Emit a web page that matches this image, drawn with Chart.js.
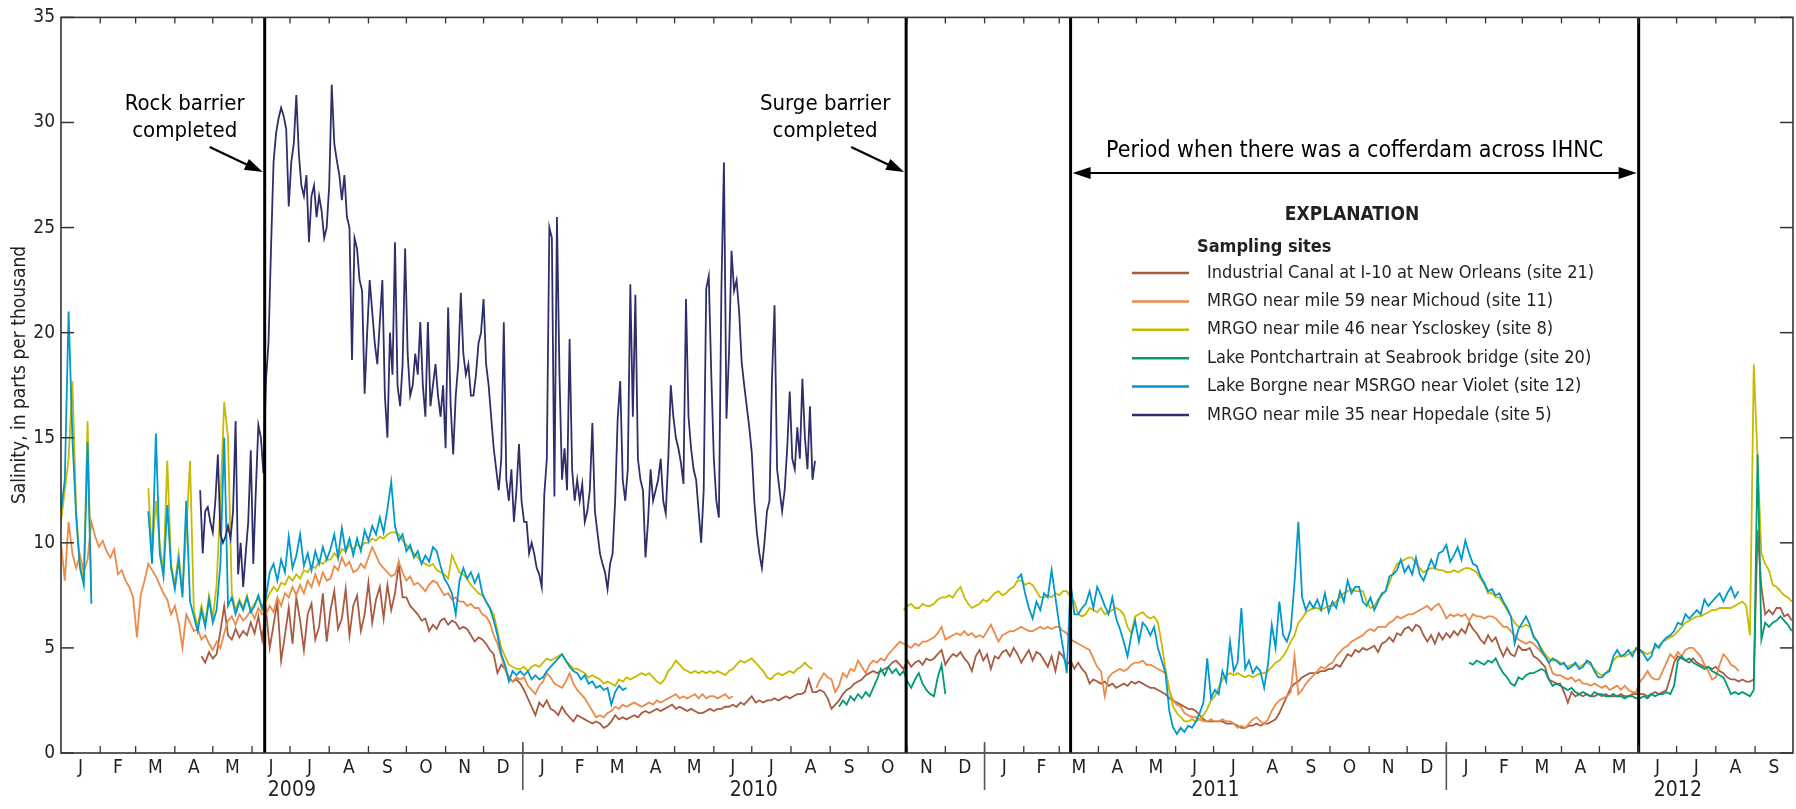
<!DOCTYPE html>
<html>
<head>
<meta charset="utf-8">
<title>Salinity at sampling sites, 2009-2012</title>
<script src="https://cdn.jsdelivr.net/npm/chart.js@4.4.0/dist/chart.umd.min.js"></script>
<style>
  html, body { margin: 0; padding: 0; background: #ffffff; }
  canvas { display: block; }
</style>
</head>
<body>
<canvas id="salinity" width="1796" height="809"></canvas>
<script>
// Day numbers count from 1 January 2009 (day 0). The axis ends on 1 October 2012.
const axisEndDay = 1369;
const monthLetters = ['J', 'F', 'M', 'A', 'M', 'J', 'J', 'A', 'S', 'O', 'N', 'D'];
const monthStartDays = [
  0, 31, 59, 90, 120, 151, 181, 212, 243, 273, 304, 334,
  365, 396, 424, 455, 485, 516, 546, 577, 608, 638, 669, 699,
  730, 761, 789, 820, 850, 881, 911, 942, 973, 1003, 1034, 1064,
  1095, 1126, 1155, 1186, 1216, 1247, 1277, 1308, 1339, 1369
];
const yearLabels = ['2009', '2010', '2011', '2012'];
const yearStartDays = [0, 365, 730, 1095];
const yearLengths = [365, 365, 365, 366];
const yTicks = [0, 5, 10, 15, 20, 25, 30, 35];

// Construction milestones
const rockBarrierDay = 161;
const surgeBarrierDay = 668;
const cofferdamStartDay = 798;
const cofferdamEndDay = 1247;

const siteNames = [
  'Industrial Canal at I-10 at New Orleans (site 21)',
  'MRGO near mile 59 near Michoud (site 11)',
  'MRGO near mile 46 near Yscloskey (site 8)',
  'Lake Pontchartrain at Seabrook bridge (site 20)',
  'Lake Borgne near MSRGO near Violet (site 12)',
  'MRGO near mile 35 near Hopedale (site 5)'
];
const siteColors = ['#a95b41', '#ec8a47', '#c8ba00', '#009a76', '#0098cd', '#2d2e6b'];

// Salinity records, parts per thousand. Each run is sampled every
// `step` days from its start day; gaps in the record separate runs.
const site21Starts = [111];
const site21Runs = [[
  4.6,4.3,4.8,4.5,4.7,5.8,7.0,5.6,5.4,5.9,
  5.5,5.8,5.6,6.2,5.7,6.5,5.4,6.8,5.0,6.1,
  7.2,4.4,5.6,6.9,5.2,7.4,6.3,4.9,6.6,7.1,
  5.4,6.0,7.6,5.3,6.8,7.7,5.9,6.4,7.8,5.6,
  7.0,7.5,5.8,6.6,8.1,6.2,7.3,7.9,6.4,8.0,
  6.8,7.6,9.0,7.4,7.4,7.0,6.8,6.6,6.3,6.4,
  5.8,6.1,5.9,6.3,6.4,6.1,6.3,6.2,5.9,6.0,
  5.9,5.6,5.3,5.5,5.4,5.2,4.9,4.7,3.8,4.2,
  4.0,3.6,3.4,3.5,3.3,3.0,2.6,2.2,1.8,2.4,
  2.2,2.5,2.1,2.0,1.8,2.2,1.9,1.7,1.5,1.8,
  1.7,1.6,1.5,1.4,1.5,1.4,1.2,1.3,1.5,1.8,
  1.6,1.7,1.6,1.7,1.8,1.7,1.9,2.0,1.9,2.0,
  2.1,2.0,2.1,2.2,2.3,2.1,2.2,2.1,2.0,2.1,
  2.0,1.9,1.9,2.0,2.1,2.0,2.1,2.1,2.2,2.2,
  2.3,2.2,2.4,2.3,2.5,2.7,2.4,2.5,2.4,2.5,
  2.5,2.6,2.5,2.6,2.7,2.6,2.7,2.8,2.8,2.9,
  3.5,2.9,2.9,3.0,2.9,2.6,2.1,2.3,2.5,2.8,
  3.0,3.1,3.3,3.4,3.5,3.7,3.8,3.9,3.8,3.9,
  4.0,4.1,4.3,4.4,4.2,4.0,4.4,4.1,4.3,4.4,
  4.2,4.5,4.4,4.5,4.7,4.9,4.2,4.5,4.7,4.6,
  4.8,4.5,4.3,3.9,4.6,4.9,4.4,4.7,4.0,4.6,
  4.5,4.8,4.9,4.6,5.0,4.7,4.3,4.6,4.9,4.4,
  4.8,4.7,4.4,4.1,4.6,3.9,4.8,4.6,4.2,4.4,
  4.0,4.3,4.0,3.8,3.3,3.5,3.4,3.3,3.4,3.2,
  3.3,3.1,3.2,3.3,3.2,3.4,3.3,3.4,3.3,3.2,
  3.1,3.1,3.0,2.9,2.8,2.6,2.5,2.4,2.3,2.2,
  2.1,2.1,2.0,1.8,1.6,1.5,1.5,1.5,1.5,1.5,
  1.4,1.4,1.4,1.3,1.2,1.2,1.3,1.3,1.4,1.3,
  1.4,1.4,1.5,1.6,1.9,2.3,2.7,3.1,3.3,3.4,
  3.6,3.7,3.8,3.8,3.8,3.9,3.9,4.0,4.0,4.2,
  4.1,4.4,4.7,4.6,4.9,4.8,5.0,4.9,5.0,5.1,
  4.8,5.2,5.3,5.5,5.3,5.7,5.6,5.9,6.0,5.8,
  6.1,6.0,5.6,5.3,5.6,5.2,5.7,5.4,5.7,5.5,
  5.8,5.6,5.9,5.7,6.2,5.9,5.7,5.4,5.2,5.6,
  5.3,5.5,5.0,4.6,5.0,4.7,4.6,5.1,4.9,4.9,
  5.0,4.6,4.5,4.3,4.1,3.5,3.4,3.3,3.3,2.9,
  2.4,2.9,2.7,2.8,2.7,2.8,2.7,2.7,2.8,2.7,
  2.8,2.7,2.7,2.7,2.8,2.7,2.7,2.8,2.8,2.8,
  2.8,2.7,2.8,2.9,2.8,2.9,3.0,3.6,4.3,4.6,
  4.5,4.4,4.3,4.5,4.3,4.2,4.1,4.1,4.0,4.1,
  3.9,3.8,3.6,3.5,3.5,3.4,3.5,3.4,3.4,3.5,
  10.6,7.9,6.6,6.8,6.6,6.9,6.9,6.5,6.6,6.3
]];

const site11Starts = [0, 597];
const site11Runs = [[
  10.0,8.2,11.0,9.5,8.8,9.4,8.6,9.2,11.0,10.3,
  9.8,10.1,9.6,9.3,9.7,8.5,8.7,8.2,7.9,7.4,
  5.5,7.5,8.2,9.0,8.7,8.4,8.0,7.6,7.3,6.6,
  7.0,6.2,5.0,6.6,6.2,5.8,5.9,5.4,5.6,5.2,
  4.9,5.3,5.0,5.7,6.3,6.5,6.1,6.6,6.3,6.5,
  6.8,6.4,6.9,6.6,6.6,7.0,6.7,7.4,7.0,7.6,
  7.4,7.9,7.5,8.0,7.6,8.2,7.9,8.5,8.0,8.6,
  8.2,8.3,8.9,8.7,9.3,8.9,9.1,8.6,8.7,9.0,
  8.8,9.3,9.8,9.4,9.0,8.8,8.6,8.4,8.5,9.1,
  8.6,8.2,8.4,8.0,8.1,7.9,7.7,8.0,8.2,8.1,
  7.8,7.5,7.6,7.3,7.4,7.2,7.2,7.0,7.1,6.9,
  6.9,6.6,6.5,6.2,5.6,5.2,4.6,4.0,3.5,3.4,
  3.6,3.5,3.6,3.2,3.0,2.8,3.2,3.4,3.8,3.6,
  3.3,3.2,3.1,3.4,3.8,3.3,3.0,2.8,2.6,2.3,
  2.0,1.7,1.8,1.7,1.9,2.0,2.2,2.1,2.3,2.2,
  2.3,2.4,2.3,2.2,2.3,2.4,2.3,2.5,2.4,2.5,
  2.6,2.7,2.8,2.6,2.7,2.6,2.7,2.8,2.6,2.8,
  2.6,2.7,2.7,2.6,2.7,2.8,2.6,2.7
], [
  3.1,3.5,3.8,3.6,3.5,2.9,3.2,3.8,3.6,4.0,
  3.9,4.4,4.1,3.8,4.2,4.4,4.3,4.5,4.4,4.7,
  4.9,5.1,5.3,5.2,5.1,5.0,5.2,5.1,5.3,5.3,
  5.4,5.5,5.7,6.0,5.4,5.5,5.6,5.7,5.6,5.8,
  5.6,5.7,5.5,5.6,5.5,5.8,6.1,5.7,5.3,5.6,
  5.7,5.8,5.8,5.9,6.0,5.9,5.8,5.8,5.9,6.0,
  5.9,6.0,5.9,6.0,6.0,5.8,5.7,5.4,5.3,5.2,
  5.1,5.0,4.9,4.5,4.1,3.9,2.7,3.6,3.8,3.9,
  4.0,3.9,4.0,4.2,4.3,4.3,4.4,4.2,4.2,4.1,
  4.0,3.9,3.8,3.0,2.5,2.3,2.2,1.9,1.8,1.7,
  1.7,1.6,1.5,1.5,1.6,1.5,1.5,1.6,1.5,1.5,
  1.4,1.2,1.3,1.2,1.4,1.6,1.7,1.5,1.4,1.6,
  2.0,2.3,2.5,2.6,2.7,2.9,4.6,2.8,3.0,3.3,
  3.5,3.7,3.9,4.1,4.0,4.2,4.3,4.6,4.8,5.0,
  5.1,5.3,5.4,5.5,5.6,5.8,5.9,5.8,6.0,6.0,
  6.0,6.2,6.3,6.5,6.4,6.5,6.6,6.6,6.7,6.8,
  6.9,7.0,6.8,7.0,7.1,6.8,6.4,6.6,6.5,6.6,
  6.5,6.6,6.3,6.6,6.5,6.5,6.4,6.5,6.5,6.4,
  6.2,6.0,6.0,5.8,5.6,5.4,5.3,5.2,5.3,5.2,
  5.0,4.8,4.6,4.3,3.8,3.7,3.7,3.6,3.5,3.6,
  3.4,3.5,3.3,3.3,3.2,3.3,3.2,3.1,3.2,3.0,
  3.1,3.2,3.0,3.2,3.0,2.9,2.9,3.4,3.6,3.9,
  3.6,3.5,3.5,3.9,4.3,4.7,4.5,4.8,4.6,4.9,
  5.0,5.0,4.8,4.6,4.2,3.9,3.5,3.6,4.2,4.7,
  4.5,4.2,4.1,3.9
]];

const site8Starts = [0, 69, 666];
const site8Runs = [[
  11.0,12.5,14.0,17.7,11.5,9.0,8.2,15.8,7.5
], [
  12.6,9.5,12.0,10.0,8.6,13.9,9.0,8.0,9.5,7.6,
  10.5,13.9,6.8,6.0,7.0,6.2,7.5,6.4,8.0,12.0,
  16.7,15.0,7.6,6.8,7.3,6.9,7.5,6.8,7.1,7.4,
  6.8,7.2,7.6,7.9,7.7,8.1,8.0,8.4,8.2,8.5,
  8.3,8.7,8.6,8.9,8.8,9.1,9.0,9.2,9.2,9.5,
  9.3,9.7,9.6,9.9,9.7,9.9,9.8,10.0,10.0,10.2,
  10.1,10.3,10.2,10.4,10.5,10.5,10.4,10.1,9.9,9.7,
  9.5,9.3,9.1,9.0,8.9,9.0,8.7,8.6,8.5,8.3,
  9.4,9.0,8.6,8.5,8.3,8.0,7.8,7.6,7.5,7.2,
  6.9,6.6,5.8,5.0,4.6,4.2,4.1,4.0,4.0,4.1,
  3.9,4.1,4.2,4.1,4.3,4.5,4.4,4.5,4.6,4.7,
  4.4,4.2,4.0,4.0,3.9,3.8,3.6,3.7,3.6,3.5,
  3.3,3.4,3.3,3.2,3.5,3.4,3.6,3.5,3.6,3.7,
  3.8,3.7,3.8,3.6,3.4,3.3,3.5,3.9,4.1,4.4,
  4.2,4.0,3.9,3.8,3.9,3.8,3.9,3.8,3.9,3.8,
  3.9,3.8,3.7,3.9,4.0,4.2,4.4,4.3,4.4,4.5,
  4.3,4.1,3.9,3.6,3.5,3.7,3.8,3.7,3.8,3.9,
  3.8,4.0,4.1,4.3,4.1,4.0
], [
  6.8,7.0,7.1,6.9,6.9,7.1,7.0,7.0,7.1,7.3,
  7.4,7.4,7.5,7.4,7.7,7.9,7.4,7.1,6.9,7.0,
  7.1,7.3,7.2,7.4,7.6,7.7,7.5,7.6,7.8,7.9,
  8.2,8.2,8.0,8.1,8.0,7.7,7.4,7.4,7.5,7.4,
  7.6,7.5,7.7,7.7,7.4,7.2,6.6,6.5,6.6,6.9,
  6.8,6.7,6.9,6.6,6.7,6.8,6.9,6.8,6.6,6.0,
  5.7,6.5,6.6,6.7,6.5,6.4,6.5,6.2,5.2,4.0,
  3.0,2.2,1.9,1.7,1.5,1.5,1.6,1.5,1.6,1.8,
  2.1,2.5,2.7,3.1,3.5,3.7,3.8,3.7,3.8,3.7,
  3.6,3.7,3.6,3.7,3.8,3.8,3.9,4.1,4.3,4.4,
  4.6,4.9,5.3,5.6,6.2,6.4,6.7,6.8,6.9,6.9,
  6.8,6.9,7.0,7.0,7.2,7.4,7.6,7.7,7.8,7.7,
  7.7,7.7,7.2,6.9,7.0,7.3,7.5,7.7,8.1,8.6,
  9.0,9.1,9.2,9.3,9.3,9.0,8.8,8.6,8.7,8.8,
  8.8,8.7,8.7,8.6,8.6,8.7,8.6,8.7,8.8,8.8,
  8.7,8.6,8.3,8.0,7.6,7.6,7.4,7.4,7.1,6.8,
  6.5,6.2,6.0,6.0,6.1,6.0,5.6,5.3,5.0,4.7,
  4.5,4.4,4.4,4.3,4.2,4.1,4.2,4.2,4.1,4.2,
  4.3,4.2,4.0,3.8,3.7,3.8,4.0,4.4,4.6,4.6,
  4.6,4.7,4.8,4.9,4.9,4.8,4.7,4.8,5.0,5.1,
  5.3,5.4,5.5,5.6,5.8,6.0,6.2,6.3,6.4,6.5,
  6.5,6.6,6.7,6.8,6.8,6.9,6.9,6.9,6.9,7.0,
  7.1,7.2,7.0,5.6,18.5,14.0,9.5,9.0,8.7,8.0,
  7.9,7.7,7.5,7.4,7.2
]];

const site20Starts = [615, 1113];
const site20Runs = [[
  2.2,2.5,2.3,2.7,2.5,2.8,2.6,2.9,2.7,3.1,
  3.5,4.0,3.7,4.1,3.8,4.0,3.7,3.9,3.4,3.1,
  3.5,3.8,3.3,3.0,2.8,2.7,3.6,4.2,2.8
], [
  4.3,4.2,4.4,4.3,4.2,4.4,4.3,4.5,4.1,3.8,
  3.6,3.3,3.2,3.6,3.5,3.7,3.8,3.8,3.9,4.0,
  3.9,3.5,3.2,3.3,3.2,3.1,3.0,3.1,2.9,2.8,
  2.9,2.8,2.7,2.9,2.8,2.8,2.7,2.7,2.8,2.7,
  2.7,2.6,2.7,2.7,2.6,2.6,2.7,2.6,2.8,2.7,
  2.8,2.8,2.9,2.8,3.2,4.4,4.6,4.4,4.5,4.3,
  4.2,4.1,4.0,4.1,3.9,3.8,3.7,3.6,3.2,2.8,
  2.9,2.8,2.9,2.8,2.7,3.0,14.2,5.4,6.2,6.0,
  6.2,6.3,6.5,6.3,6.1,5.8
]];

const site12Starts = [0, 69, 756];
const site12Runs = [[
  11.5,13.0,21.0,15.0,11.2,8.8,8.0,14.8,7.1
], [
  11.5,9.0,15.2,9.5,8.4,11.8,8.8,7.8,9.2,7.4,
  12.0,7.2,6.5,5.8,6.8,6.0,7.3,6.2,6.8,9.0,
  15.0,7.0,7.4,6.6,7.2,6.8,7.4,6.7,7.0,7.5,
  6.9,7.4,8.6,9.0,8.2,9.2,8.6,10.3,8.8,9.4,
  10.4,8.9,9.5,8.7,9.6,9.0,9.8,9.2,9.7,10.4,
  9.3,10.7,9.6,10.2,9.4,10.2,9.6,10.6,10.1,10.8,
  10.4,11.2,10.5,11.6,12.9,10.8,10.1,10.4,9.6,9.9,
  9.3,9.6,9.0,9.4,9.1,9.8,9.6,8.9,8.3,8.0,
  7.6,6.6,8.2,8.8,8.3,8.6,8.1,8.5,7.6,7.2,
  6.9,6.3,5.6,4.7,4.2,3.4,3.9,3.7,3.9,3.7,
  3.9,3.5,3.7,3.5,3.6,3.9,4.1,4.3,4.5,4.7,
  4.4,4.1,3.9,3.8,3.5,3.7,3.3,3.4,3.1,3.2,
  3.0,3.1,2.3,2.9,3.2,3.0,3.1
], [
  8.3,8.5,7.6,6.9,6.4,7.2,6.8,7.6,7.4,8.7,
  7.4,6.1,5.0,3.8,8.1,6.6,6.6,6.9,7.1,7.7,
  6.9,7.9,7.5,7.0,6.6,7.4,6.4,5.9,5.3,4.6,
  5.6,6.3,5.3,6.2,6.0,5.6,6.0,5.0,4.4,3.8,
  2.0,1.2,0.9,1.2,1.0,1.3,1.2,1.5,1.9,2.4,
  4.5,2.6,3.0,2.8,3.9,3.4,5.3,3.9,4.3,6.9,
  4.0,4.4,3.8,4.1,3.9,3.1,4.2,6.1,5.0,7.2,
  5.6,5.3,5.9,8.1,11.0,7.4,6.8,7.2,6.9,7.3,
  6.8,7.6,6.7,7.2,6.9,7.7,7.2,8.2,7.6,7.9,
  7.9,7.2,7.0,7.4,6.8,7.2,7.6,7.7,8.4,8.5,
  8.7,9.2,8.6,8.9,8.5,9.3,8.5,8.2,8.7,9.2,
  8.8,9.5,9.6,9.9,9.1,9.4,9.8,9.2,10.1,9.5,
  9.0,8.9,8.4,8.1,7.7,7.8,7.5,7.6,7.2,6.9,
  6.5,5.2,5.9,6.2,6.5,6.1,5.5,5.3,4.9,4.6,
  4.3,4.5,4.4,4.2,4.3,4.0,4.1,4.3,4.0,4.1,
  4.4,4.3,3.9,3.6,3.6,3.8,3.9,4.6,4.9,4.6,
  4.7,4.9,4.6,5.0,4.9,4.7,4.4,4.6,5.2,5.0,
  5.3,5.5,5.6,5.8,6.2,6.1,6.6,6.4,6.6,6.8,
  6.6,7.3,7.0,7.2,7.4,7.6,7.2,7.6,7.9,7.4,
  7.7
]];

const site5Starts = [110];
const site5Runs = [[
  12.5,9.5,11.5,11.7,11.0,10.5,12.0,14.2,10.4,10.0,
  10.3,10.8,10.2,11.5,15.8,8.5,10.0,7.9,9.5,11.0,
  14.4,9.0,12.5,15.6,15.0,13.3,17.7,19.5,24.0,28.1,
  29.5,30.2,30.7,30.3,29.7,26.0,28.1,29.0,31.3,28.5,
  27.0,26.5,27.5,24.3,26.5,27.0,25.5,26.5,25.8,24.5,
  25.0,27.0,31.8,29.0,28.2,27.5,26.3,27.5,25.5,25.0,
  18.7,24.5,24.0,22.5,22.0,17.1,20.0,22.5,21.0,19.5,
  18.5,20.5,22.5,17.0,15.0,20.0,18.0,24.3,17.5,16.5,
  18.5,24.0,19.0,17.0,17.5,19.0,18.0,20.5,17.5,16.0,
  20.5,16.5,17.5,18.5,17.0,16.0,17.5,14.5,21.2,16.5,
  14.2,17.0,18.5,21.9,19.0,18.0,18.5,17.0,17.0,18.0,
  19.5,20.0,21.6,18.5,17.5,16.0,14.5,13.5,12.5,14.0,
  20.5,13.0,12.0,13.5,11.0,12.5,14.7,12.0,11.0,11.0,
  9.5,10.0,9.5,8.8,8.5,7.9,12.3,14.0,25.0,24.5,
  12.2,25.5,18.0,13.0,14.5,12.5,19.7,13.5,12.0,13.0,
  12.0,12.8,11.0,11.5,12.5,15.7,11.5,10.5,9.5,9.0,
  8.6,7.8,9.0,9.5,12.0,15.9,17.7,13.0,12.0,13.5,
  22.3,16.0,21.8,14.0,13.0,12.5,9.3,11.0,13.5,12.0,
  12.5,13.0,14.0,12.0,11.4,14.0,17.5,16.0,15.0,14.5,
  13.8,12.8,21.6,16.0,14.5,13.5,13.0,11.5,10.0,12.5,
  22.1,22.7,18.0,14.0,12.0,11.2,22.1,28.1,15.9,19.0,
  23.9,22.0,22.5,21.0,18.6,17.5,16.5,15.5,14.3,12.0,
  10.5,9.5,8.8,10.0,11.5,12.0,17.9,21.3,13.5,12.5,
  11.5,12.5,14.5,17.2,14.0,13.5,15.5,14.0,17.8,15.0,
  13.5,16.5,13.0,13.9
]];

const TEXT = '#231f20';
const FRAME = '#333333';
const FONT = "'Liberation Sans Narrow', 'DejaVu Sans Condensed', 'Liberation Sans', Arial, sans-serif";

function buildPoints(starts, runs, step) {
  const points = [];
  runs.forEach((run, r) => {
    if (r > 0) points.push({ x: starts[r] - 1, y: null });
    run.forEach((v, i) => points.push({ x: starts[r] + i * step, y: v }));
  });
  return points;
}

const seriesData = [
  buildPoints(site21Starts, site21Runs, 3),
  buildPoints(site11Starts, site11Runs, 3),
  buildPoints(site8Starts, site8Runs, 3),
  buildPoints(site20Starts, site20Runs, 3),
  buildPoints(site12Starts, site12Runs, 3),
  buildPoints(site5Starts, site5Runs, 2)
];
// Later sites are drawn over earlier ones.
const drawOrder = [6, 5, 4, 3, 2, 1];

function strokeLine(ctx, x1, y1, x2, y2) {
  ctx.beginPath();
  ctx.moveTo(x1, y1);
  ctx.lineTo(x2, y2);
  ctx.stroke();
}

function arrowHead(ctx, tipX, tipY, fromX, fromY, len, halfW) {
  const ang = Math.atan2(tipY - fromY, tipX - fromX);
  const bx = tipX - len * Math.cos(ang), by = tipY - len * Math.sin(ang);
  ctx.beginPath();
  ctx.moveTo(tipX, tipY);
  ctx.lineTo(bx + halfW * Math.sin(ang), by - halfW * Math.cos(ang));
  ctx.lineTo(bx - halfW * Math.sin(ang), by + halfW * Math.cos(ang));
  ctx.closePath();
  ctx.fill();
}

function arrow(ctx, x1, y1, x2, y2) {
  const ang = Math.atan2(y2 - y1, x2 - x1);
  strokeLine(ctx, x1, y1, x2 - 12 * Math.cos(ang), y2 - 12 * Math.sin(ang));
  arrowHead(ctx, x2, y2, x1, y1, 18, 6);
}

const decorations = {
  id: 'decorations',
  afterDatasetsDraw(chart) {
    const { ctx, chartArea: a, scales: { x, y } } = chart;
    ctx.save();

    // Milestone lines
    ctx.strokeStyle = '#000000';
    ctx.lineWidth = 3;
    [rockBarrierDay, surgeBarrierDay, cofferdamStartDay, cofferdamEndDay].forEach(d => {
      const px = x.getPixelForValue(d);
      strokeLine(ctx, px, a.top, px, a.bottom);
    });

    // Frame
    ctx.strokeStyle = FRAME;
    ctx.lineWidth = 1.6;
    ctx.strokeRect(a.left, a.top, a.right - a.left, a.bottom - a.top);

    // Month tick marks, top and bottom, pointing inward
    ctx.lineWidth = 1.3;
    monthStartDays.forEach(d => {
      if (d <= 0 || d >= axisEndDay) return;
      const px = x.getPixelForValue(d);
      strokeLine(ctx, px, a.bottom, px, a.bottom - 7);
      strokeLine(ctx, px, a.top, px, a.top + 6);
    });
    // Year separators
    ctx.lineWidth = 1.6;
    ctx.strokeStyle = '#555555';
    yearStartDays.slice(1).forEach(d => {
      const px = x.getPixelForValue(d);
      strokeLine(ctx, px, a.bottom - 11, px, a.bottom + 37);
    });
    // Salinity tick marks, left and right
    ctx.strokeStyle = FRAME;
    ctx.lineWidth = 1.5;
    yTicks.forEach(v => {
      const py = y.getPixelForValue(v);
      strokeLine(ctx, a.left, py, a.left + 13, py);
      strokeLine(ctx, a.right - 13, py, a.right, py);
    });

    // Month and year labels
    ctx.fillStyle = TEXT;
    ctx.textAlign = 'center';
    ctx.textBaseline = 'middle';
    ctx.font = `19px ${FONT}`;
    for (let i = 0; i < monthStartDays.length - 1; i++) {
      const mid = (monthStartDays[i] + monthStartDays[i + 1]) / 2;
      ctx.fillText(monthLetters[i % 12], x.getPixelForValue(mid), a.bottom + 15);
    }
    ctx.font = `21px ${FONT}`;
    yearLabels.forEach((t, i) => {
      const mid = yearStartDays[i] + yearLengths[i] / 2;
      ctx.fillText(t, x.getPixelForValue(mid), a.bottom + 38);
    });

    // Axis title
    ctx.save();
    ctx.translate(20, 375);
    ctx.rotate(-Math.PI / 2);
    ctx.font = `19px ${FONT}`;
    ctx.fillText('Salinity, in parts per thousand', 0, 0);
    ctx.restore();

    // Milestone notes
    ctx.fillStyle = '#000000';
    ctx.strokeStyle = '#000000';
    ctx.lineWidth = 2.2;
    ctx.font = `22px ${FONT}`;
    const rockX = x.getPixelForValue(rockBarrierDay);
    ctx.fillText('Rock barrier', rockX - 80, 104);
    ctx.fillText('completed', rockX - 80, 131);
    arrow(ctx, rockX - 55, 147, rockX - 2, 172);

    const surgeX = x.getPixelForValue(surgeBarrierDay);
    ctx.fillText('Surge barrier', surgeX - 81, 104);
    ctx.fillText('completed', surgeX - 81, 131);
    arrow(ctx, surgeX - 55, 147, surgeX - 2, 172);

    const cx1 = x.getPixelForValue(cofferdamStartDay);
    const cx2 = x.getPixelForValue(cofferdamEndDay);
    ctx.font = `23px ${FONT}`;
    ctx.fillText('Period when there was a cofferdam across IHNC', (cx1 + cx2) / 2, 151);
    ctx.lineWidth = 2;
    strokeLine(ctx, cx1 + 12, 173, cx2 - 12, 173);
    arrowHead(ctx, cx1 + 2, 173, cx2, 173, 18, 6);
    arrowHead(ctx, cx2 - 2, 173, cx1, 173, 18, 6);

    // Explanation
    ctx.fillStyle = TEXT;
    ctx.font = `bold 19px ${FONT}`;
    ctx.fillText('EXPLANATION', 1352, 215);
    ctx.textAlign = 'left';
    ctx.font = `bold 18px ${FONT}`;
    ctx.fillText('Sampling sites', 1197, 247);
    ctx.font = `18px ${FONT}`;
    siteNames.forEach((name, i) => {
      const rowY = 273 + i * 28.4;
      ctx.strokeStyle = siteColors[i];
      ctx.lineWidth = 2.5;
      strokeLine(ctx, 1132, rowY, 1189, rowY);
      ctx.fillText(name, 1207, rowY);
    });

    ctx.restore();
  }
};

Chart.defaults.font.family = FONT;

new Chart(document.getElementById('salinity'), {
  type: 'line',
  data: {
    datasets: siteNames.map((name, i) => ({
      label: name,
      data: seriesData[i],
      borderColor: siteColors[i],
      backgroundColor: siteColors[i],
      borderWidth: i === 5 ? 1.8 : 1.8,
      pointRadius: 0,
      tension: 0,
      spanGaps: false,
      order: drawOrder[i]
    }))
  },
  options: {
    responsive: false,
    animation: false,
    events: [],
    layout: { padding: { top: 15, right: 3, left: 0, bottom: 0 } },
    plugins: { legend: { display: false }, tooltip: { enabled: false } },
    scales: {
      x: {
        type: 'linear',
        min: 0,
        max: axisEndDay,
        ticks: { display: false },
        grid: { display: false, drawTicks: false },
        border: { display: false },
        afterFit: s => { s.height = 56; }
      },
      y: {
        min: 0,
        max: 35,
        afterBuildTicks: s => { s.ticks = yTicks.map(v => ({ value: v })); },
        ticks: { color: TEXT, font: { size: 19 }, padding: 6 },
        grid: { display: false, drawTicks: false },
        border: { display: false },
        afterFit: s => { s.width = 61; }
      }
    }
  },
  plugins: [decorations]
});
</script>
</body>
</html>
